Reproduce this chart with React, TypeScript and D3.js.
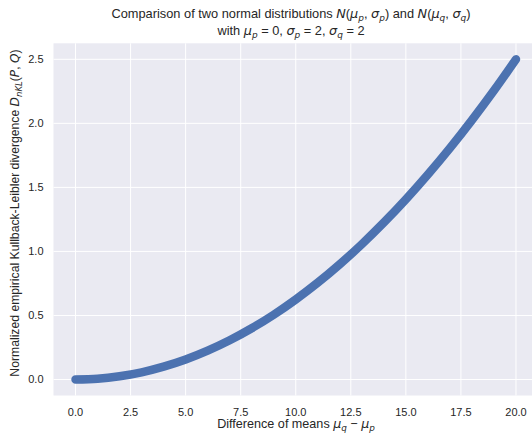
import React, { useEffect, useRef } from 'react';
import * as d3 from 'd3';

// difference of means (x) and normalized empirical KL divergence (y)
const meanDiffs = [0, 1, 2, 3, 4, 5, 6, 7, 8, 9, 10, 11, 12, 13, 14, 15, 16, 17, 18, 19, 20];
const divergences = [0, 0.006, 0.025, 0.056, 0.1, 0.156, 0.225, 0.306, 0.4, 0.506, 0.625,
  0.756, 0.9, 1.056, 1.225, 1.406, 1.6, 1.806, 2.025, 2.256, 2.5];
const xTicks = [0, 2.5, 5, 7.5, 10, 12.5, 15, 17.5, 20];
const yTicks = [0, 0.5, 1, 1.5, 2, 2.5];

const W = 532;
const H = 434;
const FONT = 'Liberation Sans, Arial, sans-serif';
const MATH = 'DejaVu Sans, sans-serif';

type Part = [string, 'n' | 'm' | 's'];

function writeParts(el: d3.Selection<SVGTextElement, unknown, null, undefined>, parts: Part[], size: number) {
  let sub = false;
  parts.forEach(([txt, kind]) => {
    const ts = el.append('tspan').text(txt);
    if (kind === 'm' || kind === 's') ts.attr('font-family', MATH).attr('font-style', 'italic');
    if (kind === 's') {
      ts.attr('font-size', size * 0.7);
      if (!sub) ts.attr('dy', size * 0.22);
      sub = true;
    } else if (sub) {
      ts.attr('dy', -size * 0.22);
      sub = false;
    }
  });
}

export default function App() {
  const ref = useRef<SVGSVGElement>(null);

  useEffect(() => {
    const svg = d3.select(ref.current);
    svg.selectAll('*').remove();

    const left = 53.5, right = 538, top = 43.3, bottom = 395.5;
    const x = d3.scaleLinear().domain([-1, 21]).range([left, right]);
    const y = d3.scaleLinear().domain([-0.125, 2.625]).range([bottom, top]);

    svg.append('rect')
      .attr('x', left).attr('y', top)
      .attr('width', right - left).attr('height', bottom - top)
      .attr('fill', '#eaeaf2');

    const grid = svg.append('g').attr('stroke', '#fff').attr('stroke-width', 1);
    xTicks.forEach(t => {
      grid.append('line').attr('x1', x(t)).attr('x2', x(t)).attr('y1', top).attr('y2', bottom);
    });
    yTicks.forEach(t => {
      grid.append('line').attr('x1', left).attr('x2', right).attr('y1', y(t)).attr('y2', y(t));
    });

    const ticks = svg.append('g').attr('font-family', FONT).attr('font-size', 11).attr('fill', '#262626');
    xTicks.forEach(t => {
      ticks.append('text').attr('x', x(t)).attr('y', bottom + 20)
        .attr('text-anchor', 'middle').text(d3.format('.1f')(t));
    });
    yTicks.forEach(t => {
      ticks.append('text').attr('x', left - 10).attr('y', y(t) + 4)
        .attr('text-anchor', 'end').text(d3.format('.1f')(t));
    });

    const pts: [number, number][] = meanDiffs.map((d, i) => [d, divergences[i]]);
    const line = d3.line<[number, number]>().x(d => x(d[0])).y(d => y(d[1])).curve(d3.curveMonotoneX);
    svg.append('path')
      .attr('d', line(pts))
      .attr('fill', 'none')
      .attr('stroke', '#4c72b0')
      .attr('stroke-width', 8.5)
      .attr('stroke-linecap', 'round');

    const TS = 12.8;
    const title = svg.append('g').attr('font-family', FONT).attr('font-size', TS)
      .attr('fill', '#262626').attr('text-anchor', 'middle');
    const t1 = title.append('text').attr('x', 291).attr('y', 18);
    writeParts(t1, [
      ['Comparison of two normal distributions ', 'n'], ['N', 'm'], ['(', 'n'], ['μ', 'm'], ['p', 's'],
      [', ', 'n'], ['σ', 'm'], ['p', 's'], [') and ', 'n'], ['N', 'm'], ['(', 'n'], ['μ', 'm'], ['q', 's'],
      [', ', 'n'], ['σ', 'm'], ['q', 's'], [')', 'n'],
    ], TS);
    const t2 = title.append('text').attr('x', 291).attr('y', 35);
    writeParts(t2, [
      ['with ', 'n'], ['μ', 'm'], ['p', 's'], [' = 0, ', 'n'], ['σ', 'm'], ['p', 's'],
      [' = 2, ', 'n'], ['σ', 'm'], ['q', 's'], [' = 2', 'n'],
    ], TS);

    const LS = 12.6;
    const xl = svg.append('text').attr('font-family', FONT).attr('font-size', LS).attr('fill', '#262626')
      .attr('text-anchor', 'middle').attr('x', 296).attr('y', 428);
    writeParts(xl, [
      ['Difference of means ', 'n'], ['μ', 'm'], ['q', 's'], [' − ', 'n'], ['μ', 'm'], ['p', 's'],
    ], LS);

    const yl = svg.append('text').attr('font-family', FONT).attr('font-size', 12.2).attr('fill', '#262626')
      .attr('text-anchor', 'middle').attr('transform', `translate(19,213) rotate(-90)`);
    writeParts(yl, [
      ['Normalized empirical Kullback-Leibler divergence ', 'n'], ['D', 'm'], ['nKL', 's'],
      ['(', 'n'], ['P', 'm'], [', ', 'n'], ['Q', 'm'], [')', 'n'],
    ], 12.2);
  }, []);

  return (
    <svg ref={ref} width={W} height={H}
      style={{ position: 'absolute', left: 0, top: 0, background: '#fff' }} />
  );
}
